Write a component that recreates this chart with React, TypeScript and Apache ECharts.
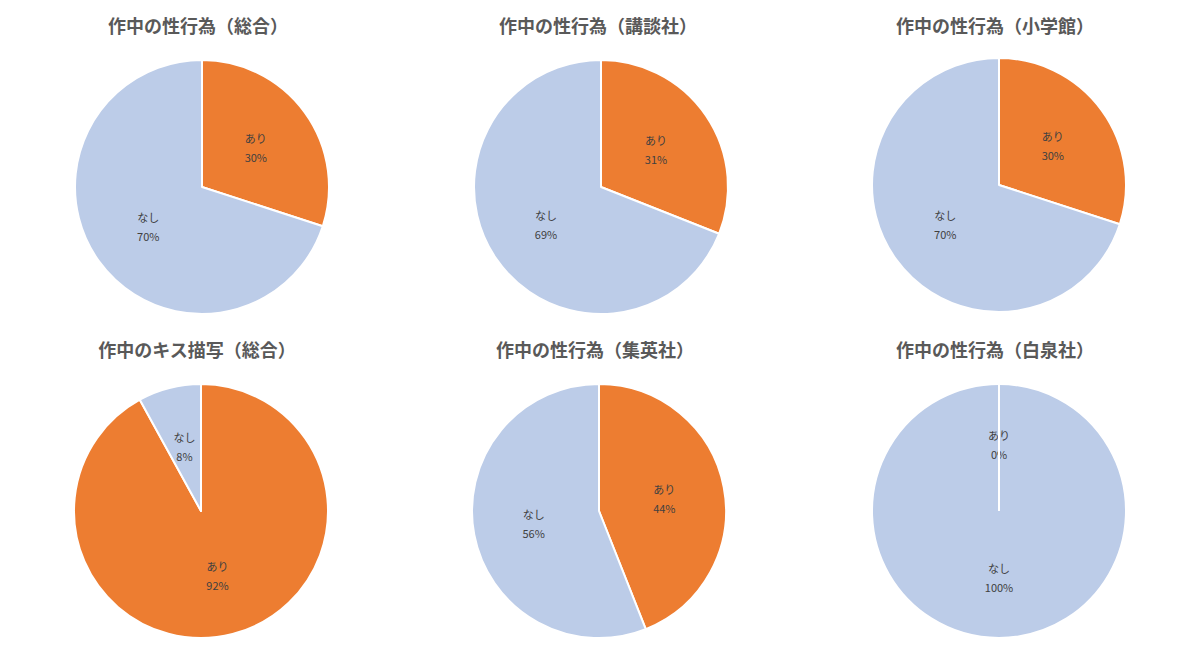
import React, { useEffect, useRef } from 'react';
import * as echarts from 'echarts';

// chart titles, row by row
const titles = [
  '作中の性行為（総合）',
  '作中の性行為（講談社）',
  '作中の性行為（小学館）',
  '作中のキス描写（総合）',
  '作中の性行為（集英社）',
  '作中の性行為（白泉社）',
];
const categories = ['あり', 'なし'];
const ariValues = [30, 31, 30, 92, 44, 0];
const nashiValues = [70, 69, 70, 8, 56, 100];

const colors = ['#ED7D31', '#BCCCE8'];
const RADIUS = 127;
const pieCenters = [
  [202, 187], [601, 187], [999, 185],
  [201, 511], [599, 511], [999, 511],
];
const titleCenters = [
  [198, 27], [598, 27], [995, 27],
  [197, 351], [595, 351], [995, 351],
];

const App = () => {
  const chartRef = useRef<HTMLDivElement>(null);

  useEffect(() => {
    if (!chartRef.current) return;
    const chart = echarts.init(chartRef.current, null, { renderer: 'svg' });

    // zero-value slices still show their white border as a radius line
    const zeroBorders: any[] = [];
    titles.forEach((_, i) => {
      const vals = [ariValues[i], nashiValues[i]];
      const total = vals[0] + vals[1];
      let acc = 0;
      vals.forEach((v) => {
        if (v === 0) {
          const ang = (Math.PI / 2) - (acc / total) * Math.PI * 2;
          const [cx, cy] = pieCenters[i];
          zeroBorders.push({
            type: 'line',
            z: 10,
            shape: { x1: cx, y1: cy, x2: cx + RADIUS * Math.cos(ang), y2: cy - RADIUS * Math.sin(ang) },
            style: { stroke: '#ffffff', lineWidth: 2 },
          });
        }
        acc += v;
      });
    });

    const option = {
      animation: false,
      color: colors,
      title: titles.map((t, i) => ({
        text: t,
        left: titleCenters[i][0],
        top: titleCenters[i][1] - 11,
        textAlign: 'center',
        padding: 0,
        textStyle: {
          fontSize: 18,
          fontWeight: 'bold',
          color: '#595959',
          fontFamily: 'Noto Sans CJK JP',
        },
      })),
      graphic: zeroBorders,
      series: titles.map((t, i) => ({
        name: t,
        type: 'pie',
        radius: RADIUS,
        center: pieCenters[i],
        startAngle: 90,
        clockwise: true,
        avoidLabelOverlap: false,
        itemStyle: { borderColor: '#ffffff', borderWidth: 2 },
        label: {
          show: true,
          position: 'inner',
          formatter: '{b}\n{d}%',
          fontSize: 11,
          lineHeight: 19,
          padding: [3, 0, 0, 0],
          color: '#404040',
          fontFamily: 'Noto Sans CJK JP',
        },
        labelLine: { show: false },
        emphasis: { disabled: true },
        data: [
          { name: categories[0], value: ariValues[i] },
          { name: categories[1], value: nashiValues[i] },
        ],
      })),
    };

    chart.setOption(option);
    return () => chart.dispose();
  }, []);

  return (
    <div
      ref={chartRef}
      style={{ position: 'fixed', left: 0, top: 0, width: 1199, height: 654, background: '#fff' }}
    />
  );
};

export default App;
